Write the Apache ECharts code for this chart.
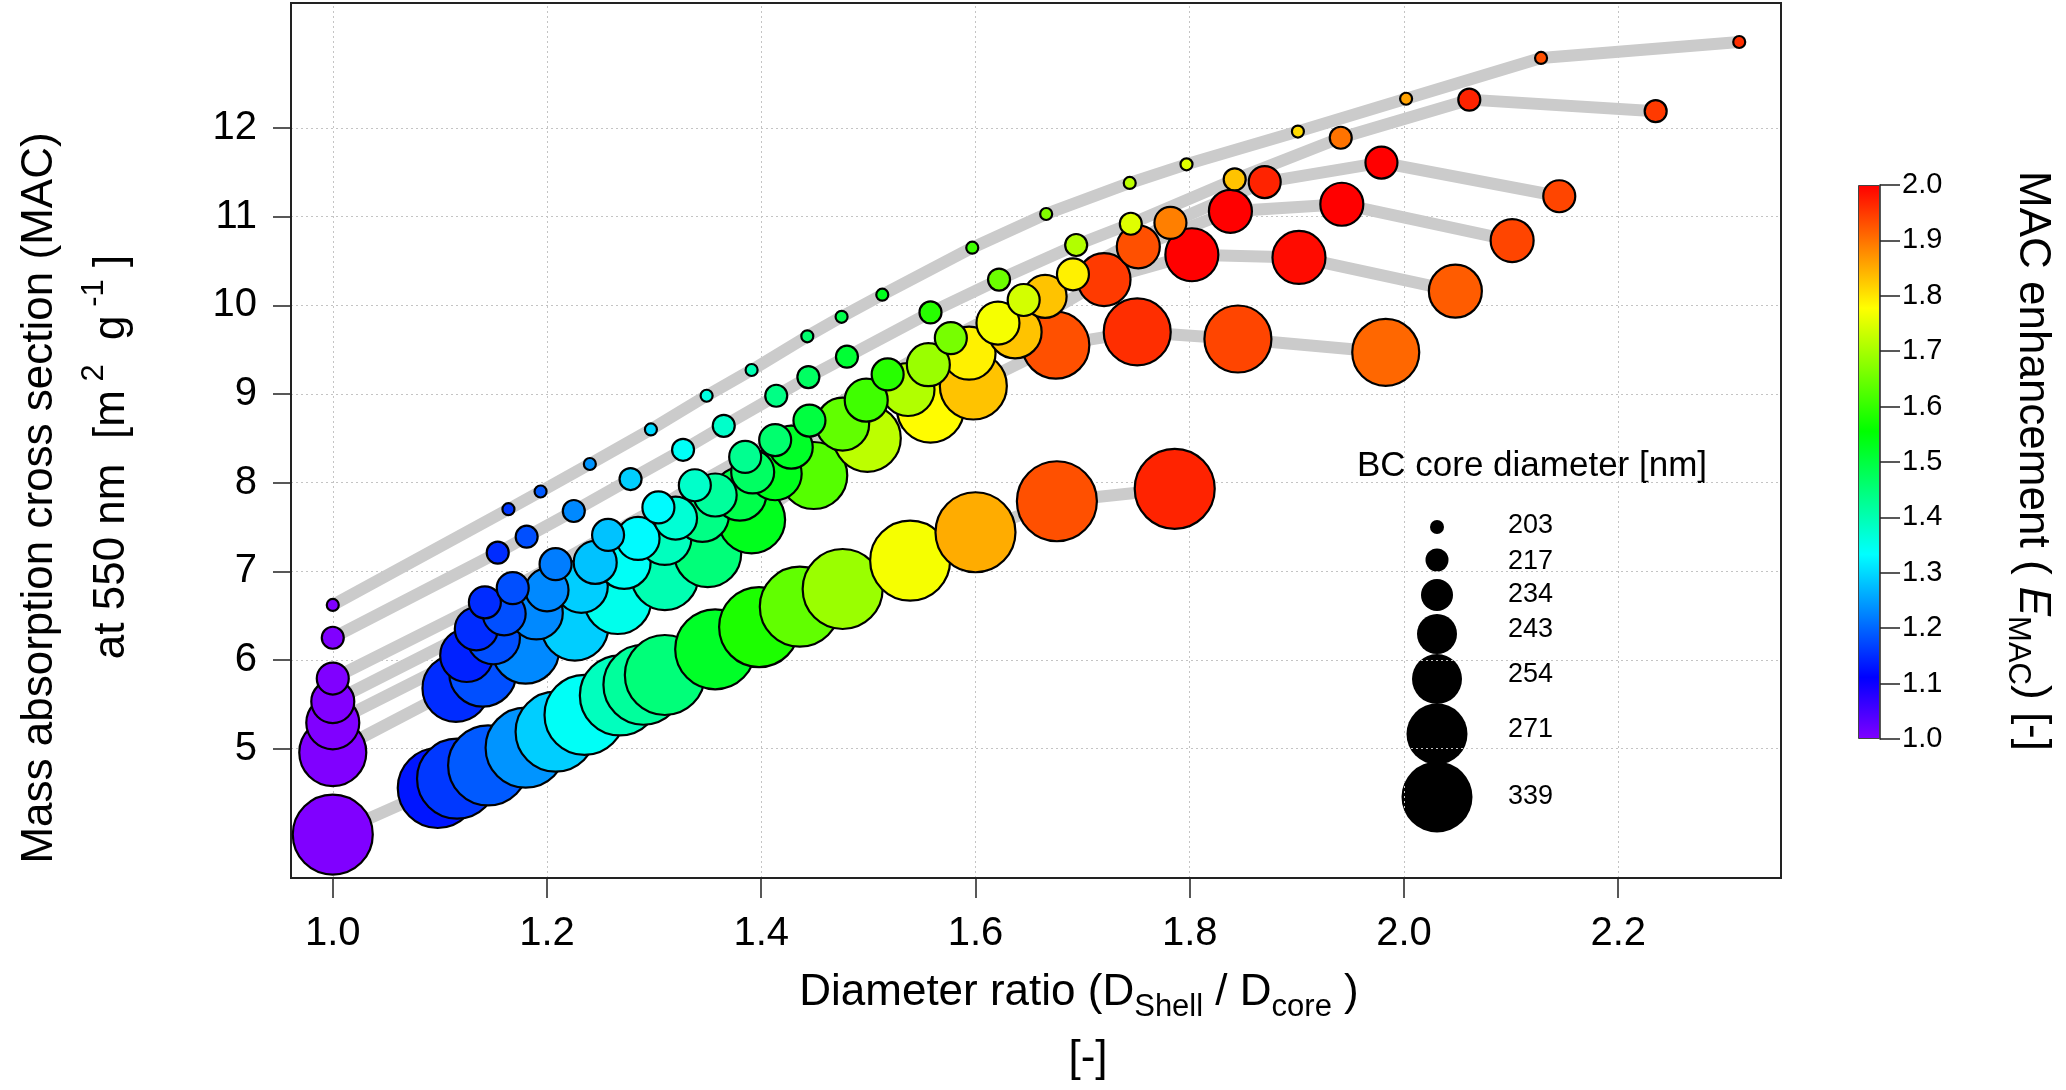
<!DOCTYPE html>
<html><head><meta charset="utf-8">
<script src="https://cdn.jsdelivr.net/npm/echarts@6/dist/echarts.min.js"></script>
<style>html,body{margin:0;padding:0;background:#fff}#c{width:2066px;height:1090px}</style>
</head><body><div id="c"></div>
<script>
// ---------------- data ----------------
const coreDiameters = [203, 217, 234, 243, 254, 271, 339];

const ratio203 = [1.000, 1.164, 1.194, 1.240, 1.297, 1.349, 1.391, 1.443, 1.475, 1.513, 1.597, 1.666, 1.744, 1.797, 1.901, 2.002, 2.128, 2.313];
const mac203   = [6.62, 7.70, 7.90, 8.21, 8.60, 8.98, 9.27, 9.65, 9.87, 10.12, 10.65, 11.03, 11.38, 11.59, 11.96, 12.33, 12.79, 12.97];
const emac203  = [1.00, 1.16, 1.19, 1.24, 1.30, 1.36, 1.40, 1.46, 1.49, 1.53, 1.61, 1.67, 1.72, 1.75, 1.81, 1.86, 1.93, 1.96];

const ratio217 = [1.000, 1.154, 1.181, 1.225, 1.278, 1.327, 1.365, 1.414, 1.444, 1.480, 1.558, 1.622, 1.694, 1.745, 1.842, 1.941, 2.061, 2.235];
const mac217   = [6.25, 7.21, 7.39, 7.68, 8.04, 8.37, 8.64, 8.98, 9.19, 9.42, 9.92, 10.29, 10.68, 10.92, 11.42, 11.89, 12.32, 12.19];
const emac217  = [1.00, 1.15, 1.18, 1.23, 1.29, 1.34, 1.38, 1.44, 1.47, 1.51, 1.59, 1.65, 1.71, 1.75, 1.83, 1.90, 1.97, 1.95];

const ratio234 = [1.000, 1.142, 1.168, 1.208, 1.257, 1.304, 1.338, 1.385, 1.413, 1.445, 1.518, 1.577, 1.645, 1.691, 1.782, 1.870, 1.979, 2.145];
const mac234   = [5.79, 6.65, 6.81, 7.08, 7.41, 7.72, 7.97, 8.29, 8.48, 8.70, 9.22, 9.63, 10.06, 10.35, 10.93, 11.39, 11.61, 11.23];
const emac234  = [1.00, 1.15, 1.18, 1.22, 1.28, 1.33, 1.38, 1.43, 1.46, 1.50, 1.59, 1.66, 1.74, 1.79, 1.89, 1.97, 2.00, 1.94];

const ratio243 = [1.000, 1.134, 1.160, 1.200, 1.245, 1.285, 1.320, 1.357, 1.392, 1.428, 1.498, 1.556, 1.621, 1.665, 1.752, 1.838, 1.942, 2.101];
const mac243   = [5.53, 6.35, 6.52, 6.79, 7.10, 7.37, 7.60, 7.86, 8.12, 8.40, 8.93, 9.33, 9.80, 10.10, 10.66, 11.06, 11.14, 10.73];
const emac243  = [1.00, 1.15, 1.18, 1.23, 1.28, 1.33, 1.37, 1.42, 1.47, 1.52, 1.61, 1.69, 1.77, 1.83, 1.93, 2.00, 2.00, 1.94];

const ratio254 = [1.000, 1.125, 1.150, 1.190, 1.232, 1.272, 1.310, 1.345, 1.380, 1.413, 1.476, 1.537, 1.594, 1.637, 1.720, 1.802, 1.902, 2.048];
const mac254   = [5.29, 6.05, 6.25, 6.53, 6.83, 7.10, 7.37, 7.63, 7.87, 8.10, 8.66, 9.05, 9.46, 9.70, 10.29, 10.57, 10.54, 10.16];
const emac254  = [1.00, 1.14, 1.18, 1.23, 1.29, 1.34, 1.39, 1.44, 1.49, 1.53, 1.64, 1.71, 1.79, 1.83, 1.95, 2.00, 1.99, 1.92];

const ratio271 = [1.000, 1.115, 1.140, 1.180, 1.226, 1.266, 1.310, 1.350, 1.391, 1.449, 1.499, 1.558, 1.598, 1.675, 1.751, 1.845, 1.983];
const mac271   = [4.955, 5.68, 5.85, 6.11, 6.37, 6.67, 6.94, 7.20, 7.58, 8.08, 8.50, 8.83, 9.09, 9.55, 9.70, 9.62, 9.47];
const emac271  = [1.00, 1.15, 1.18, 1.23, 1.29, 1.35, 1.40, 1.45, 1.53, 1.63, 1.72, 1.78, 1.83, 1.93, 1.96, 1.94, 1.91];

const ratio339 = [1.000, 1.098, 1.116, 1.145, 1.180, 1.208, 1.235, 1.268, 1.290, 1.310, 1.357, 1.398, 1.436, 1.476, 1.539, 1.600, 1.676, 1.786];
const mac339   = [4.03, 4.555, 4.66, 4.81, 5.01, 5.19, 5.38, 5.60, 5.72, 5.83, 6.12, 6.37, 6.60, 6.80, 7.12, 7.44, 7.79, 7.93];
const emac339  = [1.00, 1.13, 1.16, 1.19, 1.24, 1.29, 1.34, 1.39, 1.42, 1.45, 1.52, 1.58, 1.64, 1.69, 1.77, 1.85, 1.93, 1.97];

const xTicks = [1.0, 1.2, 1.4, 1.6, 1.8, 2.0, 2.2];
const yTicks = [5, 6, 7, 8, 9, 10, 11, 12];
const legendLabels = ['203', '217', '234', '243', '254', '271', '339'];

// ---------------- styling ----------------
const FONT = '"Liberation Sans", Arial, sans-serif';
const plotSymbolSize = [12, 22, 32, 43, 53, 67, 80];
const legendSymbolSize = [14, 23, 32, 40, 50, 61, 71];
const legendRowY = [527, 560, 595, 634, 679, 734, 797];
const legendLabelY = [526, 562, 595, 630, 675, 730, 797];

const seriesData = {
  203: [ratio203, mac203, emac203],
  217: [ratio217, mac217, emac217],
  234: [ratio234, mac234, emac234],
  243: [ratio243, mac243, emac243],
  254: [ratio254, mac254, emac254],
  271: [ratio271, mac271, emac271],
  339: [ratio339, mac339, emac339]
};

function hueColor(e) {
  const h = Math.max(0, Math.min(270, 270 * (2 - e)));
  const hp = h / 60, x = 1 - Math.abs(hp % 2 - 1);
  let r, g, b;
  if (hp < 1) { r = 1; g = x; b = 0; }
  else if (hp < 2) { r = x; g = 1; b = 0; }
  else if (hp < 3) { r = 0; g = 1; b = x; }
  else if (hp < 4) { r = 0; g = x; b = 1; }
  else if (hp < 5) { r = x; g = 0; b = 1; }
  else { r = 1; g = 0; b = x; }
  return 'rgb(' + Math.round(r * 255) + ',' + Math.round(g * 255) + ',' + Math.round(b * 255) + ')';
}
const N = 54;
const rampColors = [];
for (let i = 0; i <= N; i++) rampColors.push(hueColor(1 + i / N));
const gradStops = [];
for (let i = 0; i <= N; i++) gradStops.push({ offset: i / N, color: hueColor(2 - i / N) });

const series = [];
// grey connecting lines (drawn first)
coreDiameters.forEach((d, k) => {
  const [xs, ys] = seriesData[d];
  const s = {
    type: 'line', name: 'line' + d, xAxisIndex: 0, yAxisIndex: 0,
    data: xs.map((v, i) => [v, ys[i]]),
    showSymbol: false, symbol: 'none', silent: true, z: 1,
    lineStyle: { color: '#cbcbcb', width: 12, cap: 'round', join: 'round' },
    animation: false
  };
  if (k === 0) {
    s.markLine = {
      silent: true, symbol: ['none', 'none'], z: 0, animation: false,
      label: { show: false },
      lineStyle: { color: '#c4c4c4', width: 1, type: [2, 3] },
      data: xTicks.map(v => ({ xAxis: v })).concat(yTicks.map(v => ({ yAxis: v })))
    };
  }
  series.push(s);
});
// bubbles: largest first so smaller cores are drawn on top
const scatterIdx = [];
for (let k = coreDiameters.length - 1; k >= 0; k--) {
  const d = coreDiameters[k];
  const [xs, ys, es] = seriesData[d];
  scatterIdx.push(series.length);
  series.push({
    type: 'scatter', name: 'BC ' + d, xAxisIndex: 0, yAxisIndex: 0,
    data: xs.map((v, i) => [v, ys[i], es[i]]),
    symbolSize: plotSymbolSize[k], z: 2 + (coreDiameters.length - k),
    itemStyle: { borderColor: '#000', borderWidth: 2.2, opacity: 1 },
    animation: false
  });
}
// colour bar (stacked bar from 1 to 2)
series.push({
  type: 'bar', xAxisIndex: 1, yAxisIndex: 1, stack: 'cb', data: [1], barWidth: '100%',
  itemStyle: { color: 'rgba(0,0,0,0)' }, silent: true, animation: false
});
series.push({
  type: 'bar', xAxisIndex: 1, yAxisIndex: 1, stack: 'cb', data: [1], barWidth: '100%',
  itemStyle: { color: new echarts.graphic.LinearGradient(0, 0, 0, 1, gradStops), borderColor: '#444', borderWidth: 1 },
  silent: true, animation: false
});

const graphic = [
  { type: 'text', x: 40, y: 498, rotation: Math.PI / 2,
    style: { text: 'Mass absorption cross section (MAC)', font: '44px ' + FONT, fill: '#000',
      align: 'center', verticalAlign: 'middle', textAlign: 'center', textVerticalAlign: 'middle' } },
  { type: 'text', x: 112, y: 457, rotation: Math.PI / 2,
    style: { text: '{a|at 550 nm  [m}{s| 2}{a|  g}{s| -1}{a| ]}', fill: '#000',
      align: 'center', verticalAlign: 'middle', textAlign: 'center', textVerticalAlign: 'middle',
      rich: {
        a: { fontSize: 44, fontFamily: FONT, lineHeight: 66, fill: '#000' },
        s: { fontSize: 31, fontFamily: FONT, lineHeight: 28, verticalAlign: 'top', fill: '#000' }
      } } },
  { type: 'text', x: 1079, y: 993,
    style: { text: '{a|Diameter ratio (D}{b|Shell}{a| / D}{b|core}{a| )}', fill: '#000',
      align: 'center', verticalAlign: 'middle', textAlign: 'center', textVerticalAlign: 'middle',
      rich: {
        a: { fontSize: 44, fontFamily: FONT, lineHeight: 60, fill: '#000' },
        b: { fontSize: 31, fontFamily: FONT, lineHeight: 28, verticalAlign: 'bottom', fill: '#000' }
      } } },
  { type: 'text', x: 1088, y: 1059,
    style: { text: '[-]', font: '44px ' + FONT, fill: '#000',
      align: 'center', verticalAlign: 'middle', textAlign: 'center', textVerticalAlign: 'middle' } },
  { type: 'text', x: 2032, y: 461, rotation: -Math.PI / 2,
    style: { text: '{a|MAC enhancement ( }{i|E}{b|MAC}{a|) [-]}', fill: '#000',
      align: 'center', verticalAlign: 'middle', textAlign: 'center', textVerticalAlign: 'middle',
      rich: {
        a: { fontSize: 44, fontFamily: FONT, lineHeight: 60, fill: '#000' },
        i: { fontSize: 44, fontFamily: FONT, fontStyle: 'italic', lineHeight: 60, fill: '#000' },
        b: { fontSize: 31, fontFamily: FONT, lineHeight: 28, verticalAlign: 'bottom', fill: '#000' }
      } } },
  { type: 'text', x: 1532, y: 466,
    style: { text: 'BC core diameter [nm]', font: '35px ' + FONT, fill: '#000',
      align: 'center', verticalAlign: 'middle', textAlign: 'center', textVerticalAlign: 'middle' } }
];
legendLabels.forEach((lab, k) => {
  graphic.push({ type: 'circle', shape: { cx: 1437, cy: legendRowY[k], r: legendSymbolSize[k] / 2 },
    style: { fill: '#000' } });
  graphic.push({ type: 'text', x: 1508, y: legendLabelY[k],
    style: { text: lab, font: '27px ' + FONT, fill: '#000',
      align: 'left', verticalAlign: 'middle', textAlign: 'left', textVerticalAlign: 'middle' } });
});

const chart = echarts.init(document.getElementById('c'), null, { renderer: 'canvas' });
chart.setOption({
  animation: false,
  backgroundColor: '#fff',
  textStyle: { fontFamily: FONT },
  grid: [
    { left: 291, top: 3, width: 1490, height: 875, show: true, borderColor: '#222', borderWidth: 2, backgroundColor: 'transparent' },
    { left: 1858, top: 185, width: 22, height: 554 }
  ],
  xAxis: [
    { type: 'value', gridIndex: 0, min: 0.961, max: 2.352,
      axisLine: { show: true, onZero: false, lineStyle: { color: '#222', width: 2 } },
      axisTick: { show: true, inside: false, length: 20, lineStyle: { color: '#222', width: 1.5 }, customValues: xTicks },
      axisLabel: { show: true, fontSize: 40, color: '#000', margin: 36, fontFamily: FONT, customValues: xTicks,
        formatter: v => Number(v).toFixed(1) },
      splitLine: { show: false } },
    { type: 'category', gridIndex: 1, data: ['E'], show: false }
  ],
  yAxis: [
    { type: 'value', gridIndex: 0, min: 3.54, max: 13.41,
      axisLine: { show: true, onZero: false, lineStyle: { color: '#222', width: 2 } },
      axisTick: { show: true, inside: false, length: 18, lineStyle: { color: '#222', width: 1.5 }, customValues: yTicks },
      axisLabel: { show: true, fontSize: 40, color: '#000', margin: 34, fontFamily: FONT, customValues: yTicks,
        formatter: v => String(v) },
      splitLine: { show: false } },
    { type: 'value', gridIndex: 1, min: 1, max: 2, interval: 0.1, position: 'right',
      axisLine: { show: true, lineStyle: { color: '#222', width: 1.5 } },
      axisTick: { show: true, inside: false, length: 20, lineStyle: { color: '#222', width: 1.5 } },
      axisLabel: { fontSize: 29, color: '#000', margin: 22, fontFamily: FONT, formatter: v => Number(v).toFixed(1) },
      splitLine: { show: false } }
  ],
  visualMap: {
    type: 'continuous', show: false, dimension: 2, min: 1, max: 2,
    seriesIndex: scatterIdx, inRange: { color: rampColors }
  },
  series: series,
  graphic: graphic
});
</script>
</body></html>
